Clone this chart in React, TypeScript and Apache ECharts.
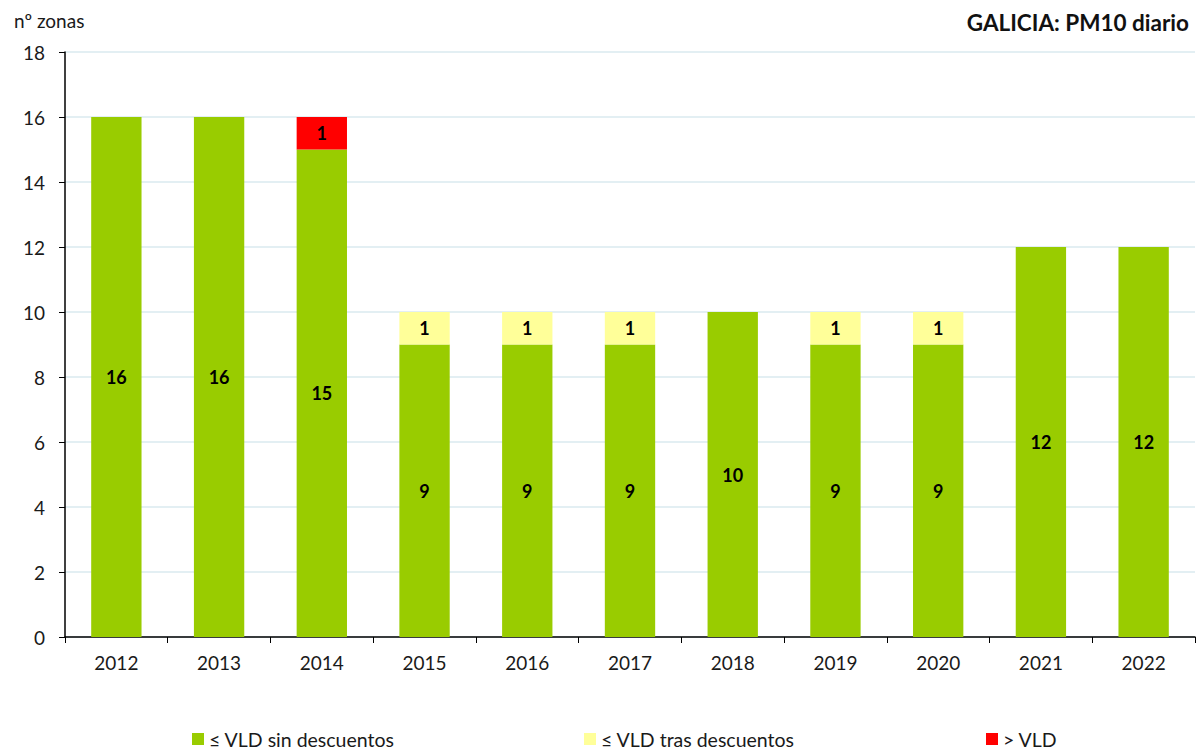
import React, { useEffect, useRef } from "react";
import * as echarts from "echarts";

const years = ["2012", "2013", "2014", "2015", "2016", "2017", "2018", "2019", "2020", "2021", "2022"];
const sinDescuentos = [16, 16, 15, 9, 9, 9, 10, 9, 9, 12, 12];
const trasDescuentos = [0, 0, 0, 1, 1, 1, 0, 1, 1, 0, 0];
const superaVLD = [0, 0, 1, 0, 0, 0, 0, 0, 0, 0, 0];
const yTicks = [0, 2, 4, 6, 8, 10, 12, 14, 16, 18];

const FONT = "Lato, 'Open Sans', sans-serif";

export default function App() {
  const ref = useRef<HTMLDivElement>(null);
  useEffect(() => {
    if (!ref.current) return;
    const chart = echarts.init(ref.current, undefined, { renderer: "svg" });
    const label = {
      show: true,
      position: "inside",
      color: "#000",
      fontWeight: "bold",
      fontSize: 18,
      fontFamily: FONT,
      formatter: (p: any) => (p.value ? String(p.value) : ""),
    };
    const legendBase = {
      bottom: -5,
      itemWidth: 12,
      itemHeight: 12,
      itemGap: 5,
      icon: "rect",
      textStyle: { fontSize: 19.5, color: "#1a1a1a", fontFamily: FONT },
    };
    chart.setOption({
      animation: false,
      textStyle: { fontFamily: FONT },
      title: [
        {
          text: "GALICIA: PM10 diario",
          right: 9,
          top: 6,
          textStyle: { fontSize: 22.5, fontWeight: "bold", color: "#111", fontFamily: FONT },
        },
        {
          text: "nº zonas",
          left: 9,
          top: 6,
          textStyle: { fontSize: 19, fontWeight: "normal", color: "#1a1a1a", fontFamily: FONT },
        },
      ],
      legend: [
        { ...legendBase, left: 187, data: ["≤ VLD sin descuentos"] },
        { ...legendBase, left: 579, data: ["≤ VLD tras descuentos"] },
        { ...legendBase, left: 981, data: ["> VLD"] },
      ],
      grid: { left: 65, right: 8, top: 52, bottom: 112 },
      xAxis: {
        type: "category",
        data: years,
        axisLine: { lineStyle: { color: "#000", width: 1.5 } },
        axisTick: { show: true, length: 6, lineStyle: { color: "#000" }, alignWithLabel: false },
        axisLabel: { color: "#1a1a1a", fontSize: 19, margin: 16, fontFamily: FONT },
      },
      yAxis: {
        type: "value",
        min: 0,
        max: yTicks[yTicks.length - 1],
        interval: 2,
        axisLine: { show: true, lineStyle: { color: "#000", width: 1.5 } },
        axisTick: { show: true, length: 6, lineStyle: { color: "#000" } },
        axisLabel: { color: "#1a1a1a", fontSize: 19, margin: 20, fontFamily: FONT },
        splitLine: { show: true, lineStyle: { color: "#e3eff3", width: 2 } },
      },
      series: [
        {
          name: "≤ VLD sin descuentos",
          type: "bar",
          stack: "total",
          barWidth: "49%",
          data: sinDescuentos,
          itemStyle: { color: "#99cc00" },
          label,
        },
        {
          name: "≤ VLD tras descuentos",
          type: "bar",
          stack: "total",
          data: trasDescuentos,
          itemStyle: { color: "#ffff99" },
          label,
        },
        {
          name: "> VLD",
          type: "bar",
          stack: "total",
          data: superaVLD,
          itemStyle: { color: "#ff0000" },
          label,
        },
      ],
    });
    return () => chart.dispose();
  }, []);
  return (
    <div
      ref={ref}
      style={{ position: "absolute", left: 0, top: 0, width: 1203, height: 749, background: "#fff" }}
    />
  );
}
